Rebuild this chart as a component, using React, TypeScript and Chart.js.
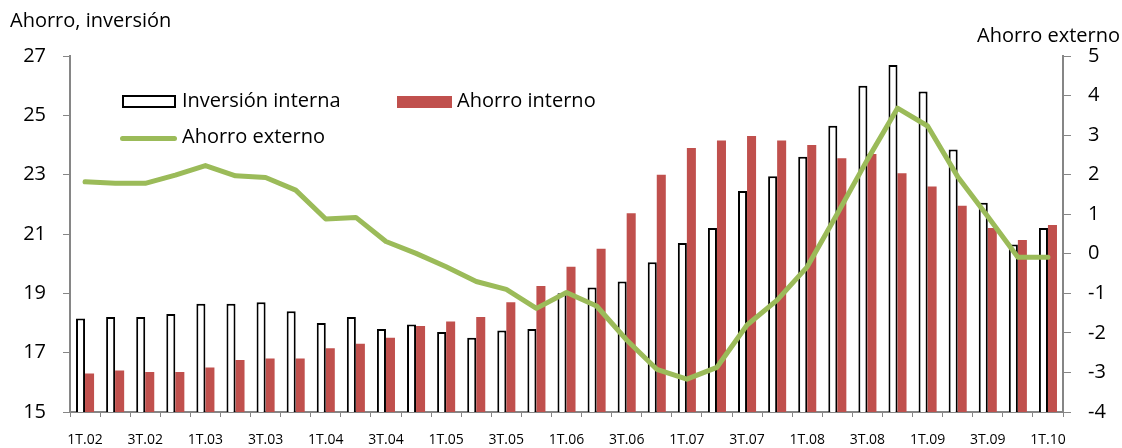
import React, { useEffect, useRef } from "react";
import { Chart, registerables } from "chart.js";

Chart.register(...registerables);

const years = ["02", "03", "04", "05", "06", "07", "08", "09"];
const categories: string[] = [];
for (const y of years) for (const q of [1, 2, 3, 4]) categories.push(`${q}T.${y}`);
categories.push("1T.10");

const inversionInterna = [
  18.15, 18.2, 18.2, 18.3, 18.65, 18.65, 18.7, 18.4, 18.0, 18.2,
  17.8, 17.95, 17.7, 17.5, 17.75, 17.8, 19.0, 19.2, 19.4, 20.05,
  20.7, 21.2, 22.45, 22.95, 23.6, 24.65, 26.0, 26.7, 25.8, 23.85,
  22.05, 20.65, 21.2,
];

const ahorroInterno = [
  16.3, 16.4, 16.35, 16.35, 16.5, 16.75, 16.8, 16.8, 17.15, 17.3,
  17.5, 17.9, 18.05, 18.2, 18.7, 19.25, 19.9, 20.5, 21.7, 23.0,
  23.9, 24.15, 24.3, 24.15, 24.0, 23.55, 23.7, 23.05, 22.6, 21.95,
  21.2, 20.8, 21.3,
];

const ahorroExterno = [
  1.82, 1.78, 1.78, 1.99, 2.23, 1.97, 1.93, 1.61, 0.88, 0.92,
  0.31, 0.01, -0.33, -0.7, -0.9, -1.38, -0.98, -1.32, -2.18, -2.92,
  -3.17, -2.87, -1.8, -1.17, -0.33, 1.01, 2.38, 3.68, 3.23, 1.95,
  0.94, -0.09, -0.09,
];

const leftTicks = { min: 15, max: 27, step: 2 };
const rightTicks = { min: -4, max: 5, step: 1 };

const FONT = "'Open Sans', sans-serif";
const AXIS_GRAY = "#868686";
const RED = "#C0504D";
const GREEN = "#9BBB59";

export default function App() {
  const ref = useRef<HTMLCanvasElement | null>(null);

  useEffect(() => {
    if (!ref.current) return;
    const chart = new Chart(ref.current, {
      type: "bar",
      data: {
        labels: categories,
        datasets: [
          {
            type: "bar",
            label: "Inversión interna",
            data: inversionInterna,
            backgroundColor: "#FFFFFF",
            borderColor: "#000000",
            borderWidth: 2,
            yAxisID: "y",
            order: 1,
            categoryPercentage: 0.6,
            barPercentage: 1,
          },
          {
            type: "bar",
            label: "Ahorro interno",
            data: ahorroInterno,
            backgroundColor: RED,
            borderWidth: 0,
            yAxisID: "y",
            order: 1,
            categoryPercentage: 0.6,
            barPercentage: 1,
          },
          {
            type: "line",
            label: "Ahorro externo",
            data: ahorroExterno,
            borderColor: GREEN,
            borderWidth: 5,
            pointRadius: 0,
            tension: 0,
            borderJoinStyle: "round",
            borderCapStyle: "round",
            yAxisID: "y2",
            order: 0,
          } as any,
        ],
      },
      options: {
        animation: false,
        responsive: false,
        maintainAspectRatio: false,
        layout: { padding: { top: 56, left: 0, right: 0, bottom: 0 } },
        plugins: { legend: { display: false }, tooltip: { enabled: false } },
        scales: {
          x: {
            offset: true,
            grid: {
              display: true,
              offset: true,
              drawOnChartArea: false,
              drawTicks: true,
              tickLength: 5,
              color: AXIS_GRAY,
              lineWidth: 1,
            },
            border: { display: true, color: AXIS_GRAY, width: 2 },
            ticks: {
              autoSkip: false,
              maxRotation: 0,
              minRotation: 0,
              padding: 15,
              color: "#000",
              font: { family: FONT, size: 14 },
              callback: (_v: any, i: number) => (i % 2 === 0 ? categories[i] : ""),
            },
            afterFit: (s: any) => {
              s.height = 36;
            },
          },
          y: {
            position: "left",
            min: leftTicks.min,
            max: leftTicks.max,
            grid: {
              display: true,
              drawOnChartArea: false,
              tickLength: 7,
              color: AXIS_GRAY,
            },
            border: { display: true, color: AXIS_GRAY, width: 2 },
            ticks: {
              stepSize: leftTicks.step,
              padding: 17,
              color: "#000",
              font: { family: FONT, size: 20 },
            },
            afterFit: (s: any) => {
              s.width = 70;
            },
          },
          y2: {
            position: "right",
            min: rightTicks.min,
            max: rightTicks.max,
            grid: {
              display: true,
              drawOnChartArea: false,
              tickLength: 8,
              color: AXIS_GRAY,
            },
            border: { display: true, color: AXIS_GRAY, width: 2 },
            ticks: {
              stepSize: rightTicks.step,
              padding: 17,
              color: "#000",
              font: { family: FONT, size: 20 },
            },
            afterFit: (s: any) => {
              s.width = 59;
            },
          },
        },
      },
    });
    return () => chart.destroy();
  }, []);

  const textStyle: React.CSSProperties = {
    position: "absolute",
    fontFamily: FONT,
    color: "#000",
    whiteSpace: "nowrap",
    lineHeight: 1,
  };

  return (
    <div
      style={{
        position: "fixed",
        left: 0,
        top: 0,
        width: 1122,
        height: 448,
        background: "#fff",
        overflow: "hidden",
      }}
    >
      <canvas ref={ref} width={1122} height={448} style={{ position: "absolute", left: 0, top: 0 }} />
      <div style={{ ...textStyle, left: 10, top: 10, fontSize: 20 }}>Ahorro, inversión</div>
      <div style={{ ...textStyle, left: 977, top: 25, fontSize: 20 }}>Ahorro externo</div>
      {/* legend */}
      <div
        style={{
          position: "absolute",
          left: 122,
          top: 95,
          width: 50,
          height: 9,
          border: "2px solid #000",
          background: "#fff",
        }}
      />
      <div style={{ ...textStyle, left: 182, top: 90, fontSize: 20 }}>Inversión interna</div>
      <div style={{ position: "absolute", left: 397, top: 96, width: 55, height: 12, background: RED }} />
      <div style={{ ...textStyle, left: 457, top: 90, fontSize: 20 }}>Ahorro interno</div>
      <div
        style={{
          position: "absolute",
          left: 120,
          top: 136,
          width: 57,
          height: 5,
          borderRadius: 3,
          background: GREEN,
        }}
      />
      <div style={{ ...textStyle, left: 182, top: 126, fontSize: 20 }}>Ahorro externo</div>
    </div>
  );
}
